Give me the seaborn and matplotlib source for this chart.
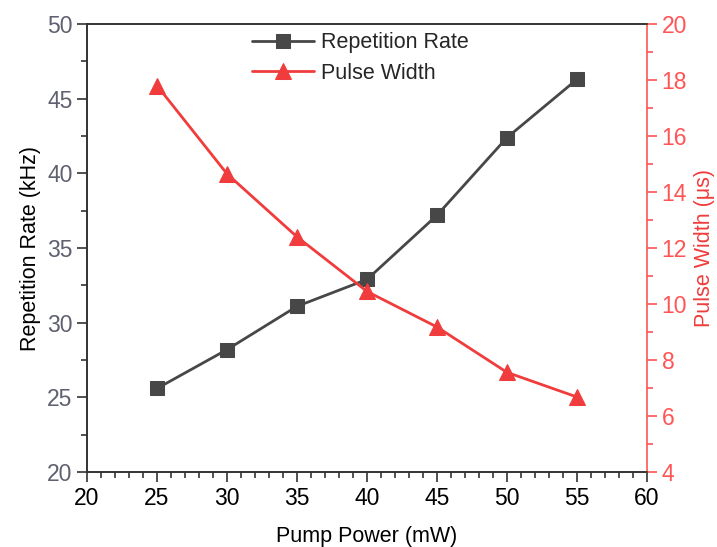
import numpy as np
import pandas as pd
import matplotlib.pyplot as plt
import seaborn as sns
from matplotlib.ticker import MultipleLocator

pump_power = [25, 30, 35, 40, 45, 50, 55]
rep_rate = [25.6, 28.2, 31.1, 32.9, 37.2, 42.4, 46.3]
pulse_width = [17.8, 14.65, 12.4, 10.45, 9.18, 7.56, 6.68]

sns.set_style("ticks")
plt.rcParams['font.family'] = ['Liberation Sans', 'DejaVu Sans']
plt.rcParams['xtick.direction'] = 'out'
plt.rcParams['ytick.direction'] = 'out'

black = "#474747"
red = "#f03c3c"

df = pd.DataFrame({"Pump Power": pump_power, "Rep": rep_rate, "PW": pulse_width})

fig = plt.figure(figsize=(7.17, 5.47), dpi=100)
ax = fig.add_axes([0.1214, 0.137, 0.781, 0.819])
ax2 = ax.twinx()

sns.lineplot(data=df, x="Pump Power", y="Rep", ax=ax, color=black, marker="s",
             markersize=10, markeredgecolor=black, linewidth=2, label="Repetition Rate", legend=False)
sns.lineplot(data=df, x="Pump Power", y="PW", ax=ax2, color=red, marker="^",
             markersize=12, markeredgecolor=red, linewidth=2, label="Pulse Width", legend=False)

ax.set_xlim(20, 60)
ax.set_ylim(20, 50)
ax2.set_ylim(4, 20)
ax.xaxis.set_major_locator(MultipleLocator(5))
ax.xaxis.set_minor_locator(MultipleLocator(1))
ax.yaxis.set_major_locator(MultipleLocator(5))
ax.yaxis.set_minor_locator(MultipleLocator(2.5))
ax2.yaxis.set_major_locator(MultipleLocator(2))
ax2.yaxis.set_minor_locator(MultipleLocator(1))

ax.set_xlabel("Pump Power (mW)", fontsize=15.5, color="black", labelpad=12)
ax.set_ylabel("Repetition Rate (kHz)", fontsize=15.5, color="black", labelpad=4)
ax2.set_ylabel("Pulse Width (\u03bcs)", fontsize=15.5, color=red, labelpad=5)

for spine in ["left", "bottom", "top"]:
    ax.spines[spine].set_color("#333333")
    ax.spines[spine].set_linewidth(1.2)
    ax2.spines[spine].set_color("#333333")
    ax2.spines[spine].set_linewidth(1.2)
ax2.spines["right"].set_color("#ff5555")
ax2.spines["right"].set_linewidth(1.2)
ax.spines["right"].set_visible(False)

ax.tick_params(axis="x", which="major", length=7, width=1.2, labelsize=16.5, colors="#333333", labelcolor="black")
ax.tick_params(axis="x", which="minor", length=4, width=1.2, colors="#333333")
ax.tick_params(axis="y", which="major", length=7, width=1.2, labelsize=16.5, colors="#333333", labelcolor="#5f6070")
ax.tick_params(axis="y", which="minor", length=4, width=1.2, colors="#333333")
ax2.tick_params(axis="y", which="major", length=7, width=1.2, labelsize=16.5, colors="#ff5555", labelcolor="#ff5555")
ax2.tick_params(axis="y", which="minor", length=4, width=1.2, colors="#ff5555")

h1, l1 = ax.get_legend_handles_labels()
h2, l2 = ax2.get_legend_handles_labels()
ax2.legend(h1 + h2, l1 + l2, loc="upper center", bbox_to_anchor=(0.488, 1.025), frameon=False,
           fontsize=15.5, handlelength=2.9, handletextpad=0.3, labelspacing=0.45)

fig.savefig("out.png", dpi=100)
